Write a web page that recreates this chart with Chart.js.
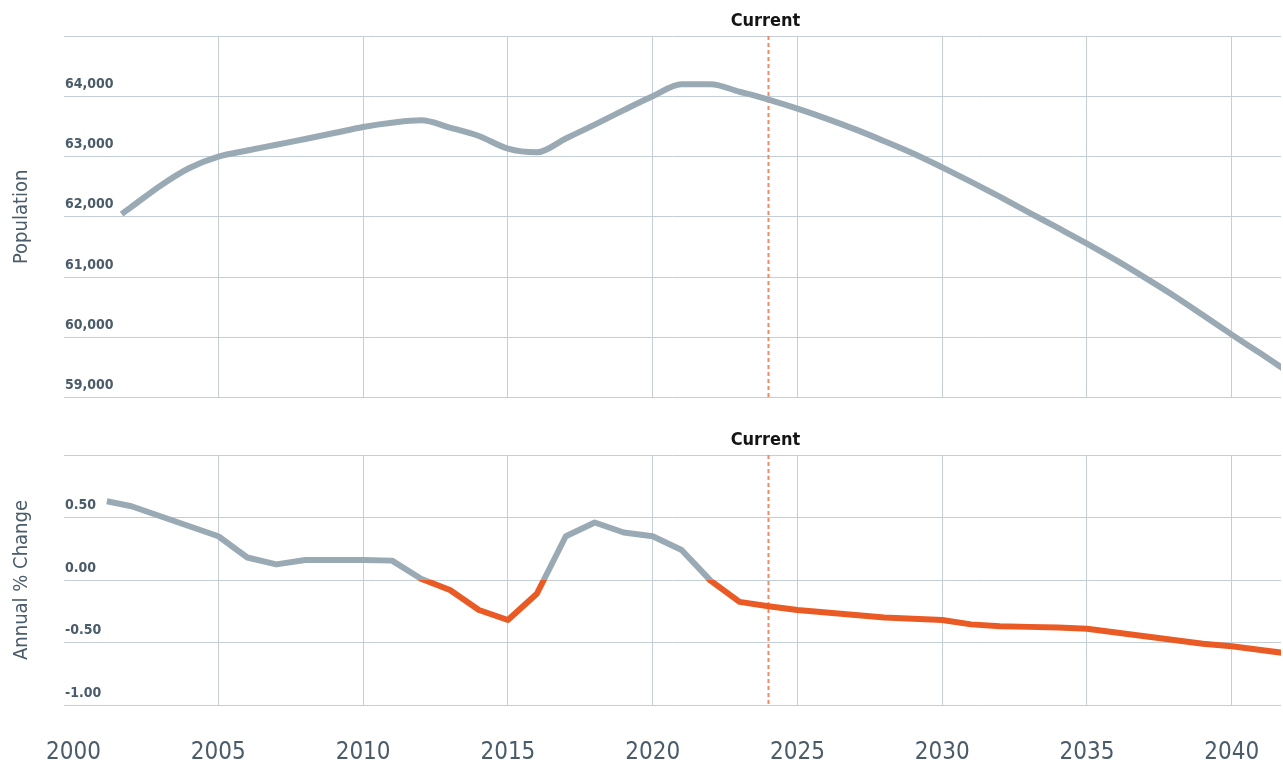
<!DOCTYPE html>
<html>
<head>
<meta charset="utf-8">
<script src="https://cdn.jsdelivr.net/npm/chart.js@4"></script>
<style>
  body { margin: 0; background: #fff; }
  .box { position: absolute; left: 0; width: 1283px; }
  #top { top: 0; height: 407px; }
  #bot { top: 400px; height: 368px; }
</style>
</head>
<body>
<div class="box" id="top"><canvas id="popChart"></canvas></div>
<div class="box" id="bot"><canvas id="pctChart"></canvas></div>
<script>
const C = {
  gray: '#9aaab4',
  orange: '#e95a24',
  dash: '#f08a62',
  grid: '#c4ced6',
  text: '#4a5c6a',
  black: '#141414',
};
const COND = "'DejaVu Sans Condensed', 'DejaVu Sans', sans-serif";

// population (top panel)
const popYears = [2001.66, 2002, 2003, 2004, 2005, 2006, 2007, 2008, 2009, 2010, 2011, 2012, 2013, 2014,
  2015, 2016, 2017, 2018, 2019, 2020, 2021, 2022, 2023, 2024, 2025, 2026, 2027, 2028, 2029, 2030,
  2031, 2032, 2033, 2034, 2035, 2036, 2037, 2038, 2039, 2040, 2041, 2042];
const population = [62045, 62165, 62517, 62810, 63000, 63100, 63195, 63290, 63390, 63490, 63560, 63600, 63480, 63340,
  63130, 63070, 63300, 63530, 63770, 64000, 64200, 64200, 64075, 63945, 63795, 63630, 63450, 63255, 63050, 62820,
  62580, 62330, 62070, 61815, 61555, 61280, 60990, 60690, 60370, 60045, 59730, 59410];

// annual % change (bottom panel)
const pctYears = [2001.15, 2002, 2003, 2004, 2005, 2006, 2007, 2008, 2009, 2010, 2011, 2012, 2013, 2014,
  2015, 2016, 2017, 2018, 2019, 2020, 2021, 2022, 2023, 2024, 2025, 2026, 2027, 2028, 2029, 2030,
  2031, 2032, 2033, 2034, 2035, 2036, 2037, 2038, 2039, 2040, 2041, 2042];
const pctChange = [0.63, 0.59, 0.51, 0.43, 0.35, 0.18, 0.125, 0.16, 0.16, 0.16, 0.155, 0.01, -0.08, -0.24,
  -0.32, -0.11, 0.35, 0.46, 0.38, 0.35, 0.24, -0.005, -0.175, -0.21, -0.24, -0.26, -0.28, -0.30, -0.31, -0.32,
  -0.355, -0.37, -0.375, -0.38, -0.39, -0.42, -0.45, -0.48, -0.51, -0.53, -0.56, -0.59];

const tickYears = [2000, 2005, 2010, 2015, 2020, 2025, 2030, 2035, 2040];
const popTicks = [59000, 60000, 61000, 62000, 63000, 64000, 65000];
const pctTicks = [-1, -0.5, 0, 0.5, 1];
const xMin = 1999.67, xMax = 2041.7;
const currentYear = 2024;
const currentLabel = 'Current';

function xAxis(showLabels) {
  return {
    type: 'linear',
    min: xMin,
    max: xMax,
    afterBuildTicks: s => { s.ticks = tickYears.map(v => ({ value: v })); },
    afterFit: s => {
      s.height = showLabels ? 63 : 0;
      s.paddingLeft = 0;
      s.paddingRight = 0;
    },
    grid: { color: c => (c.tick && c.tick.value === 2000 ? 'rgba(0,0,0,0)' : C.grid), drawTicks: false },
    border: { display: false },
    ticks: {
      display: showLabels,
      color: C.text,
      font: { family: COND, size: 24 },
      padding: 33,
      maxRotation: 0,
      autoSkip: false,
      callback: v => String(v),
    },
  };
}

function yAxis(tickValues, fmt, title) {
  const top = tickValues[tickValues.length - 1];
  return {
    min: tickValues[0],
    max: top,
    afterBuildTicks: s => { s.ticks = tickValues.map(v => ({ value: v })); },
    afterFit: s => { s.width = 64; },
    grid: { color: C.grid, drawTicks: false },
    border: { display: false },
    ticks: {
      mirror: true,
      padding: 1,
      labelOffset: -12,
      color: C.text,
      font: { family: COND, size: 14, weight: 'bold' },
      callback: v => (v === top ? '' : fmt(v)),
    },
    title: { display: true, text: title, color: C.text, font: { family: COND, size: 20 }, padding: { top: 10, bottom: 0 } },
  };
}

const currentMarker = {
  id: 'currentMarker',
  beforeDatasetsDraw(chart) {
    const { ctx, chartArea: a, scales: { x } } = chart;
    const px = x.getPixelForValue(currentYear);
    ctx.save();
    ctx.strokeStyle = C.dash;
    ctx.lineWidth = 2;
    ctx.setLineDash([4, 3]);
    ctx.beginPath();
    ctx.moveTo(px, a.top);
    ctx.lineTo(px, a.bottom);
    ctx.stroke();
    ctx.restore();
  },
  afterDraw(chart) {
    const { ctx, chartArea: a, scales: { x } } = chart;
    const px = x.getPixelForValue(currentYear);
    ctx.save();
    ctx.fillStyle = C.black;
    ctx.font = 'bold 18px ' + COND;
    ctx.textAlign = 'center';
    ctx.textBaseline = 'alphabetic';
    ctx.fillText(currentLabel, px - 3, a.top - 10);
    ctx.restore();
  },
};

// gray above zero, orange below
function splitColor(ctx) {
  const chart = ctx.chart;
  const a = chart.chartArea;
  if (!a) return C.gray;
  const y0 = chart.scales.y.getPixelForValue(0);
  const t = Math.min(1, Math.max(0, (y0 - a.top) / (a.bottom - a.top)));
  const g = chart.ctx.createLinearGradient(0, a.top, 0, a.bottom);
  g.addColorStop(0, C.gray);
  g.addColorStop(t, C.gray);
  g.addColorStop(t, C.orange);
  g.addColorStop(1, C.orange);
  return g;
}

Chart.defaults.animation = false;

new Chart(document.getElementById('popChart'), {
  type: 'line',
  data: {
    datasets: [{
      data: popYears.map((x, i) => ({ x, y: population[i] })),
      borderColor: C.gray,
      borderWidth: 6,
      borderCapStyle: 'butt',
      borderJoinStyle: 'round',
      cubicInterpolationMode: 'monotone',
      pointRadius: 0,
    }],
  },
  options: {
    responsive: true,
    maintainAspectRatio: false,
    layout: { padding: { top: 36, right: 2, bottom: 3, left: 0 } },
    plugins: { legend: { display: false }, tooltip: { enabled: false } },
    scales: {
      x: xAxis(false),
      y: yAxis(popTicks, v => v.toLocaleString('en-US'), 'Population'),
    },
  },
  plugins: [currentMarker],
});

new Chart(document.getElementById('pctChart'), {
  type: 'line',
  data: {
    datasets: [{
      data: pctYears.map((x, i) => ({ x, y: pctChange[i] })),
      borderColor: splitColor,
      borderWidth: 6,
      borderCapStyle: 'butt',
      borderJoinStyle: 'round',
      tension: 0,
      pointRadius: 0,
    }],
  },
  options: {
    responsive: true,
    maintainAspectRatio: false,
    layout: { padding: { top: 55, right: 2, bottom: 0, left: 0 } },
    plugins: { legend: { display: false }, tooltip: { enabled: false } },
    scales: {
      x: xAxis(true),
      y: yAxis(pctTicks, v => v.toFixed(2), 'Annual % Change'),
    },
  },
  plugins: [currentMarker],
});
</script>
</body>
</html>
